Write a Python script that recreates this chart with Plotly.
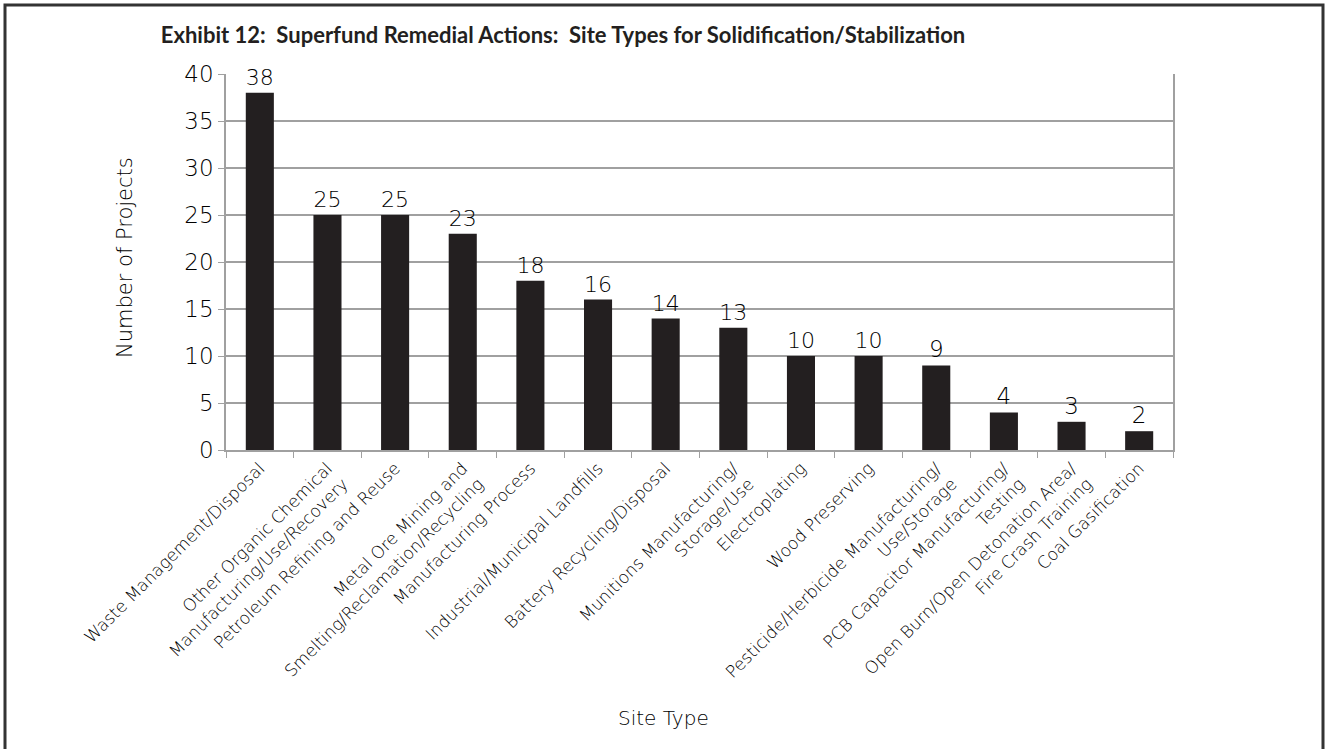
import plotly.graph_objects as go

categories = [
    "Waste Management/Disposal",
    "Other Organic Chemical<br>Manufacturing/Use/Recovery",
    "Petroleum Refining and Reuse",
    "Metal Ore Mining and<br>Smelting/Reclamation/Recycling",
    "Manufacturing Process",
    "Industrial/Municipal Landfills",
    "Battery Recycling/Disposal",
    "Munitions Manufacturing/<br>Storage/Use",
    "Electroplating",
    "Wood Preserving",
    "Pesticide/Herbicide Manufacturing/<br>Use/Storage",
    "PCB Capacitor Manufacturing/<br>Testing",
    "Open Burn/Open Detonation Area/<br>Fire Crash Training",
    "Coal Gasification",
]
projects = [38, 25, 25, 23, 18, 16, 14, 13, 10, 10, 9, 4, 3, 2]
y_ticks = [0, 5, 10, 15, 20, 25, 30, 35, 40]

FONT = "DejaVu Sans ExtraLight, DejaVu Sans Light, Lato Light, DejaVu Sans"
TFONT = "Lato"
INK = "#000000"
BAR = "#231f20"
GRID = "#a0a0a0"

W, H = 1326, 749
L, T = 226, 74
R = W - 1173
B = H - 450
PW, PH = W - L - R, H - T - B

fig = go.Figure(
    go.Bar(
        x=categories,
        y=projects,
        marker=dict(color=BAR, line=dict(width=0)),
        text=[str(v) for v in projects],
        textposition="outside",
        textfont=dict(family=FONT, size=23, color=INK),
        cliponaxis=False,
    )
)

fig.update_layout(
    width=W,
    height=H,
    paper_bgcolor="white",
    plot_bgcolor="white",
    margin=dict(l=L, r=R, t=T, b=B),
    bargap=0.585,
    showlegend=False,
    font=dict(family=FONT, color=INK),
    title=dict(
        text="<b>Exhibit 12:  Superfund Remedial Actions:  Site Types for Solidification/Stabilization</b>",
        x=563 / W,
        xanchor="center",
        y=1 - 35 / H,
        yanchor="middle",
        font=dict(family=TFONT, size=22, color=BAR),
    ),
    xaxis=dict(
        tickangle=-45,
        tickfont=dict(family=FONT, size=17, color=INK),
        showline=True,
        linecolor=GRID,
        linewidth=1.5,
        ticks="outside",
        tickson="boundaries",
        ticklen=6,
        tickcolor=GRID,
        showgrid=False,
        automargin=False,
    ),
    yaxis=dict(
        range=[0, 40],
        tickvals=y_ticks,
        tickfont=dict(family=FONT, size=23, color=INK),
        showline=True,
        linecolor=GRID,
        linewidth=1.5,
        mirror=True,
        ticks="outside",
        ticklen=6,
        tickcolor=GRID,
        showgrid=True,
        gridcolor=GRID,
        gridwidth=1.5,
        zeroline=False,
        automargin=False,
    ),
    shapes=[
        dict(
            type="rect", xref="paper", yref="paper",
            x0=-(226 - 5) / PW, x1=1 + (1323 - 1173) / PW,
            y0=-(760 - 450) / PH, y1=1 + (74 - 5) / PH,
            line=dict(color="#333333", width=3),
            fillcolor="rgba(0,0,0,0)",
            layer="above",
        )
    ],
)

fig.add_annotation(
    text="Site Type", xref="paper", yref="paper", x=(663 - 226) / PW, y=-(718 - 450) / PH,
    showarrow=False, font=dict(family=FONT, size=20, color=INK), xanchor="center", yanchor="middle",
)
fig.add_annotation(
    text="Number of Projects", xref="paper", yref="paper", x=-(226 - 125) / PW, y=(450 - 258) / PH,
    showarrow=False, textangle=-90, font=dict(family=FONT, size=21, color=INK),
    xanchor="center", yanchor="middle",
)

fig.write_html(
    "out.html",
    config={"displayModeBar": False},
    post_script="document.body.style.margin='0px';document.body.style.overflow='hidden';",
)
